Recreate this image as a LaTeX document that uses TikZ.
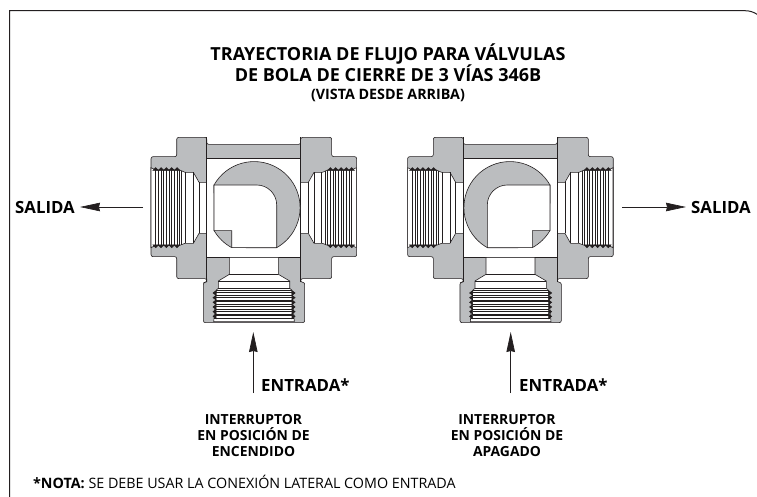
\documentclass[tikz,border=0pt]{standalone}
\usepackage{fontspec}
\setmainfont{Open Sans}
\usetikzlibrary{arrows.meta,positioning}
\definecolor{valvegrey}{HTML}{BBBDBF}
\definecolor{inkline}{HTML}{231F20}

\begin{document}
\begin{tikzpicture}[x=1pt,y=-1pt,inkline,
	heading/.style={align=center,inner sep=0pt,font=\bfseries\fontsize{18}{20.6}\selectfont,text=black},
	subheading/.style={inner sep=0pt,font=\bfseries\fontsize{14.3}{16}\selectfont,text=black},
	portlabel/.style={inner sep=0pt,font=\bfseries\fontsize{16.8}{18}\selectfont,text=black},
	switchlabel/.style={align=center,inner sep=0pt,font=\bfseries\fontsize{13.9}{16}\selectfont,text=black},
	flow/.style={line width=.7pt,-{Stealth[length=20pt,width=8.5pt,inset=1pt]}},
	pics/valve/.style={code={
		\begin{scope}[x=.3333pt,y=-.3333pt,line width=.6pt]
		\filldraw[fill=valvegrey,rounded corners=2pt] (-141,73) -- (141,73) -- (141,52) -- (234,52) -- (234,110) -- (309,110) -- (309,410) -- (234,410) -- (234,476) -- (141,476) -- (141,487) -- (153,487) -- (153,608) -- (-151,608) -- (-151,487) -- (-141,487) -- (-141,476) -- (-231,476) -- (-231,410) -- (-308,410) -- (-308,110) -- (-231,110) -- (-231,52) -- (-141,52) -- cycle;
		% side ports
		\foreach \s in {1,-1} {
			\begin{scope}[xscale=\s]
			\filldraw[fill=white] (141,187) -- (164,187) -- (181,157) -- (206,157) -- (222,150) -- (294,150) -- (308,143) -- (308,383) -- (294,376) -- (222,376) -- (206,370) -- (181,370) -- (164,340) -- (141,340) -- cycle;
			\draw (164,187) -- (164,340) (181,157) -- (181,370) (204,157) -- (204,370);
			\draw[line width=1pt] (216,152) -- (216,374);
			\foreach \t in {222,238,254,270,286} {
				\filldraw[fill=inkline] (\t,151) -- (\t+8,143) -- (\t+16,151) -- cycle;
				\filldraw[fill=inkline] (\t,375) -- (\t+8,383) -- (\t+16,375) -- cycle;
				\draw (\t,150) -- (\t,376) (\t+8,150) -- (\t+8,376);
			}
			\draw (141,52) -- (141,116) (141,412) -- (141,487);
			\end{scope}
		}
		% centre and neck
		\filldraw[fill=white] (-141,116) rectangle (141,412);
		\filldraw[fill=white] (-73,412) -- (-73,463) -- (-106,483) -- (-106,505) -- (-112,510) -- (-120,605) -- (122,605) -- (114,510) -- (108,505) -- (108,483) -- (74,463) -- (74,412) -- cycle;
		\draw (-73,463) -- (74,463) (-106,483) -- (108,483);
		\draw[line width=1pt] (-106,505) -- (108,505);
		\foreach \t in {512,526,540,554,568,582} {
			\draw (-113,\t) -- (115,\t) (-113,\t+5) -- (115,\t+5);
			\filldraw[fill=inkline] (-113,\t) -- (-122,\t+7) -- (-113,\t+14) -- cycle;
			\filldraw[fill=inkline] (115,\t) -- (124,\t+7) -- (115,\t+14) -- cycle;
		}
		\draw[line width=1pt] (-118,596) -- (120,596);
		% ball
		\begin{scope}[xscale=#1]
		\filldraw[fill=valvegrey] (-119,195) arc[start angle=209.4,end angle=421,radius=138] -- (-66,383) arc[start angle=118.6,end angle=149.5,radius=138] -- cycle;
		\filldraw[fill=white] (-119,195) -- (9,195) arc[start angle=270,end angle=360,radius=60] -- (69,383) -- (-66,383) -- (-66,332) -- (-119,332) -- cycle;
		\end{scope}
		\end{scope}
	}}]
\useasboundingbox (0,0) rectangle (757,497);
\clip (0,0) rectangle (757,497);

\draw[line width=1pt] (9.5,497) -- (9.5,10.7) -- (745,10.7) arc[start angle=-90,end angle=-20,radius=22];

\node [heading] (title) at (388,63) {TRAYECTORIA DE FLUJO PARA VÁLVULAS\\DE BOLA DE CIERRE DE 3 VÍAS 346B};
\node [subheading,below=7pt of title] (view) {(VISTA DESDE ARRIBA)};

\pic at (253.7,120) {valve=1};
\pic at (510.3,120) {valve=-1};

\node [portlabel,anchor=west] (outL) at (15,207) {SALIDA};
\node [portlabel,anchor=east] (outR) at (751,207) {SALIDA};
\coordinate (outLfree) at (143,207);
\coordinate (outRfree) at (622,207);
\draw[flow,shorten >=5pt] (outLfree) -- (outL.east);
\draw[flow,shorten >=5pt] (outRfree) -- (outR.west);

\node [portlabel,anchor=west] (inL) at (261,385.5) {ENTRADA*};
\node [portlabel,anchor=west] (inR) at (519,385.5) {ENTRADA*};
\coordinate (inLfree) at (253.3,393);
\coordinate (inRfree) at (510.7,393);
\coordinate (inLtip) at (253.3,332);
\coordinate (inRtip) at (510.7,332);
\draw[flow] (inLfree) -- (inLtip);
\draw[flow] (inRfree) -- (inRtip);

\node [switchlabel] (swL) at (253.5,436) {INTERRUPTOR\\EN POSICIÓN DE\\ENCENDIDO};
\node [switchlabel] (swR) at (507,436) {INTERRUPTOR\\EN POSICIÓN DE\\APAGADO};

\node [anchor=west,inner sep=0pt,text=black,font=\fontsize{14.3}{16}\selectfont] (note) at (33,482) {\textbf{*NOTA:} SE DEBE USAR LA CONEXIÓN LATERAL COMO ENTRADA};
\end{tikzpicture}
\end{document}
